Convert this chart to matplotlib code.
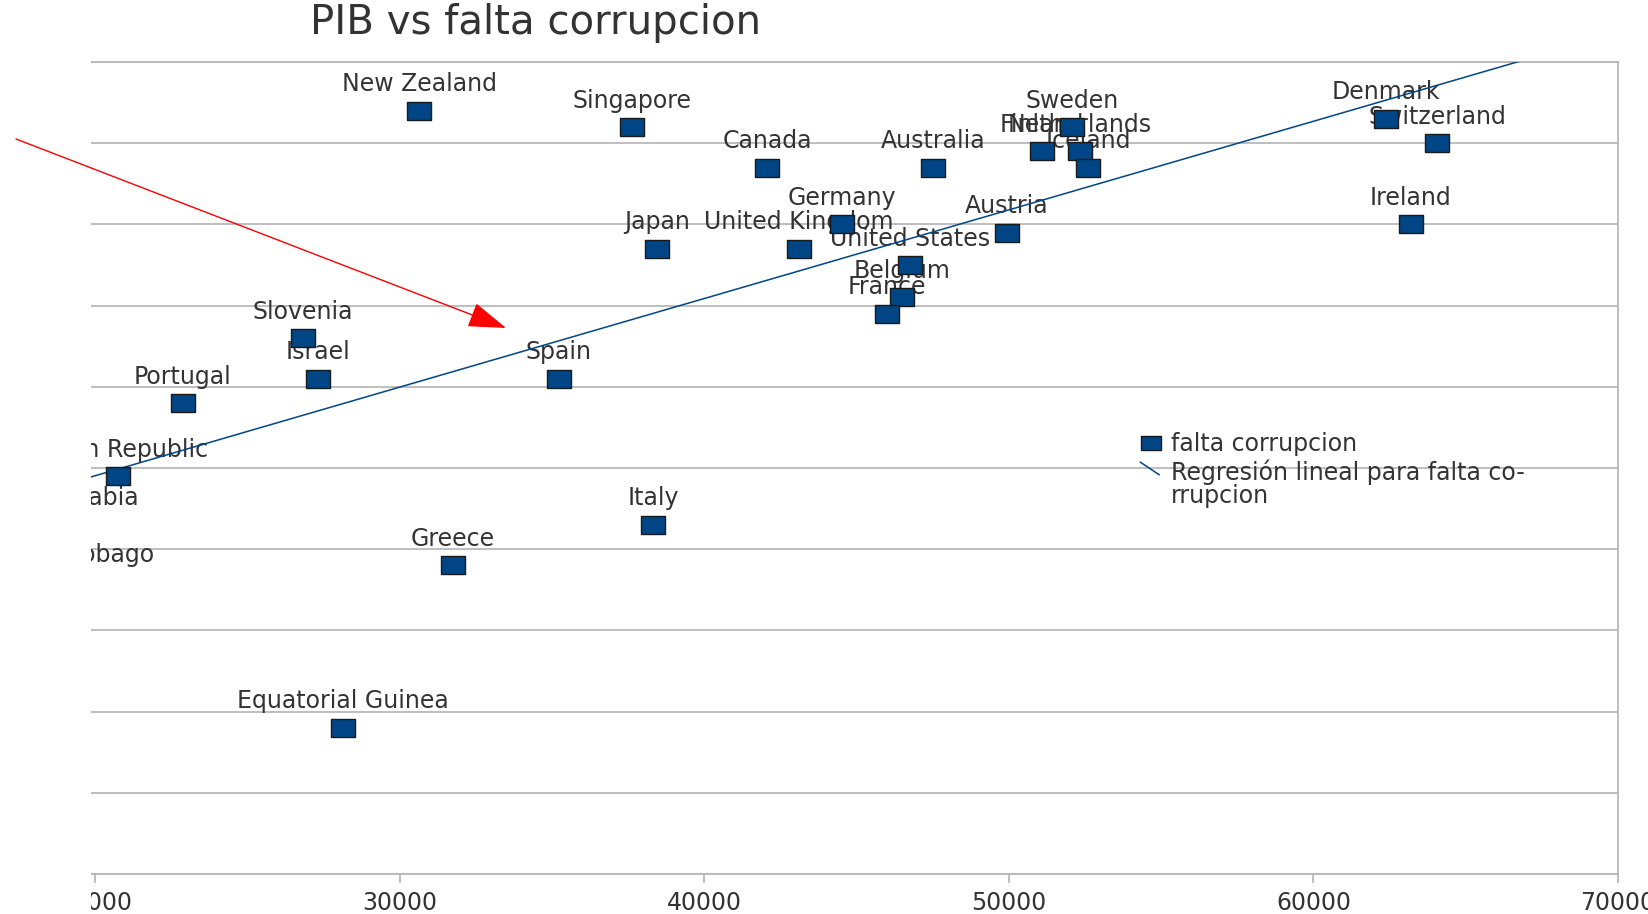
import numpy as np
import matplotlib
matplotlib.use("Agg")
import matplotlib.pyplot as plt
from matplotlib.lines import Line2D
from matplotlib.patches import Rectangle, FancyArrowPatch
from matplotlib.legend_handler import HandlerBase

# datos (PIB per capita vs indice de falta de corrupcion)
paises = ['New Zealand', 'Singapore', 'Canada', 'Australia', 'Germany', 'Japan',
          'United Kingdom', 'United States', 'Belgium', 'France', 'Austria',
          'Finland', 'Sweden', 'Netherlands', 'Iceland', 'Denmark', 'Switzerland',
          'Ireland', 'Slovenia', 'Israel', 'Portugal', 'Spain', 'Czech Republic',
          'Italy', 'Greece', 'Equatorial Guinea', 'Saudi Arabia', 'Trinidad and Tobago']
pib = [30640, 37630, 42060, 47510, 44520, 38450,
       43110, 46760, 46490, 46000, 49940,
       51090, 52080, 52340, 52600, 62380, 64060,
       63200, 26830, 27320, 22890, 35230, 20760,
       38320, 31750, 28140, 18990, 18060]
falta_corrupcion = [9.4, 9.2, 8.7, 8.7, 8.0, 7.7,
                    7.7, 7.5, 7.1, 6.9, 7.9,
                    8.9, 9.2, 8.9, 8.7, 9.3, 9.0,
                    8.0, 6.6, 6.1, 5.8, 6.1, 4.9,
                    4.3, 3.8, 1.8, 4.3, 3.6]

# regresion lineal tal como aparece en el grafico
pendiente = 1.0915e-4
ordenada = 2.721

x_ticks = [20000, 30000, 40000, 50000, 60000, 70000]

AZUL = '#004586'
GRIS = '#b3b3b3'
TEXTO = '#333333'
W, H = 1649, 914
FS = 17

# marcador rectangular (la imagen original esta estirada en horizontal)
rect = [(-1.47, -1), (1.47, -1), (1.47, 1), (-1.47, 1), (-1.47, -1)]


class DiagHandler(HandlerBase):
    # simbolo de la regresion: trazo corto en diagonal, a la altura de la 1a linea
    def create_artists(self, legend, orig_handle, xdescent, ydescent,
                       width, height, fontsize, trans):
        ln = Line2D([width * 0.12, width * 0.78], [height + 10.5, height + 1.5],
                    color=orig_handle.get_color(), lw=1.1)
        ln.set_transform(trans)
        return [ln]


fig = plt.figure(figsize=(W / 100, H / 100), dpi=100)
ax = fig.add_axes([91 / W, 1 - 874 / H, (1618 - 91) / W, (874 - 62) / H])
ax.set_xlim(19870, 70000)
ax.set_ylim(0, 10)

ax.plot(pib, falta_corrupcion, ls='none', marker=rect, ms=18,
        mfc=AZUL, mec='#1a1a1a', mew=1, zorder=4)

for nombre, x, y in zip(paises, pib, falta_corrupcion):
    ax.annotate(nombre, (x, y), xytext=(0, 14), textcoords='offset points',
                ha='center', va='baseline', fontsize=FS, color=TEXTO,
                zorder=2, annotation_clip=False)

xs = np.array(ax.get_xlim())
ax.plot(xs, pendiente * xs + ordenada, color=AZUL, lw=1.1, zorder=3)

ax.set_xticks(x_ticks)
ax.set_xticklabels([str(t) for t in x_ticks])
ax.set_yticks(range(0, 11))
ax.yaxis.grid(True, color=GRIS, lw=1.2)
ax.set_axisbelow(True)
ax.tick_params(axis='x', direction='out', length=6.5, width=1.2, color=GRIS,
               labelsize=FS, labelcolor=TEXTO, pad=6)
ax.tick_params(axis='y', left=False, labelleft=False)
ax.spines['left'].set_visible(False)
for s in ['bottom', 'right', 'top']:
    ax.spines[s].set_color(GRIS)
    ax.spines[s].set_linewidth(1.2)

h1 = Line2D([], [], ls='none', marker=rect, ms=14, mfc=AZUL, mec='#1a1a1a', mew=1)
h2 = Line2D([], [], color=AZUL)
leg = fig.legend([h1, h2], ['falta corrupcion', 'Regresión lineal para falta co-\nrrupcion'],
                 handler_map={h2: DiagHandler()}, loc='upper left',
                 bbox_to_anchor=(1137 / W, 1 - 432 / H), frameon=False, fontsize=FS,
                 handlelength=1.2, handletextpad=0.24, labelspacing=0.15, borderpad=0,
                 borderaxespad=0, labelcolor=TEXTO)
for t in leg.get_texts():
    t.set_linespacing(0.95)

fig.text(535 / W, 1 - 34 / H, 'PIB vs falta corrupcion', ha='center',
         va='baseline', fontsize=29, color=TEXTO)

# la captura original esta recortada por la izquierda
fig.add_artist(Rectangle((0, 0), 91 / W, 1, transform=fig.transFigure,
                         fc='white', ec='none', zorder=10))

flecha = FancyArrowPatch((16 / W, 1 - 139 / H), (506 / W, 1 - 328 / H),
                         transform=fig.transFigure,
                         arrowstyle='-|>,head_length=1.2,head_width=0.4',
                         mutation_scale=20, color='red', lw=1,
                         shrinkA=0, shrinkB=0, zorder=11)
fig.add_artist(flecha)

fig.savefig('out.png', dpi=100)
